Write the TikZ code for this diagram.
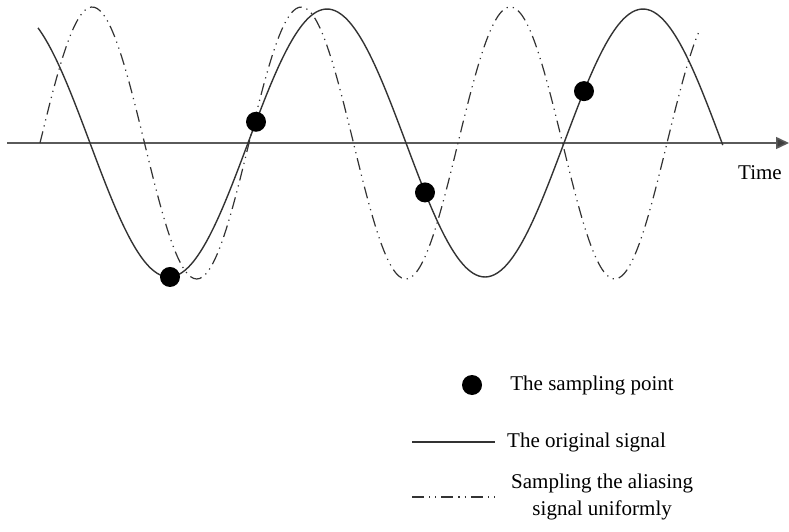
\documentclass[tikz,border=0pt]{standalone}
\usepackage{fontspec}
\setmainfont{Liberation Serif}
\usetikzlibrary{positioning, arrows.meta}
\definecolor{sigcol}{HTML}{333333}
\definecolor{axcol}{HTML}{5A5A5A}
\tikzset{
  axisline/.style={line width=1.5pt, draw=axcol, -{Triangle[length=13pt, width=12pt, fill=axcol!70!black]}},
  origsig/.style={line width=1.4pt, draw=sigcol},
  aliassig/.style={line width=1.2pt, draw=sigcol, dash pattern=on 12pt off 5pt on 1.2pt off 5pt on 1.2pt off 5pt},
  sample/.style={circle, fill=black, inner sep=0pt, minimum size=20pt},
  legtext/.style={inner sep=0pt, font=\fontsize{21}{27}\selectfont, align=center}
}

\begin{document}
\begin{tikzpicture}[x=1pt, y=1pt]
    \useasboundingbox (0,-389) rectangle (789,143);

    % Eje de tiempo
    \coordinate (axstart) at (7,0);
    \coordinate (axend) at (789,0);
    \draw [axisline] (axstart) -- (axend);
    \node (time) [legtext] at (760,-30) {Time};

    % Senales
    \draw [aliassig] plot[domain=40:700, samples=220, smooth] (\x, {136*sin((\x-40)/209*360)});
    \draw [origsig] plot[domain=38:722.8, samples=220, smooth] (\x, {134*sin((\x-248)/316*360)});

    % Puntos de muestreo
    \node (s1) [sample] at (170, {134*sin((170-248)/316*360)}) {};
    \node (s2) [sample] at (256, {134*sin((256-248)/316*360)}) {};
    \node (s3) [sample] at (425, {134*sin((425-248)/316*360)}) {};
    \node (s4) [sample] at (584, {134*sin((584-248)/316*360)}) {};

    % Leyenda
    \node (legdot) [sample] at (472,-242) {};
    \node (legdottxt) [legtext, right=28pt of legdot] {The sampling point};

    \coordinate (legsolA) at (412,-299);
    \coordinate (legsolB) at (495,-299);
    \draw [origsig] (legsolA) -- (legsolB);
    \node (legsoltxt) [legtext, right=12pt of legsolB] {The original signal};

    \coordinate (legalA) at (412,-354);
    \coordinate (legalB) at (495,-354);
    \draw [aliassig] (legalA) -- (legalB);
    \node (legaltxt) [legtext, right=16pt of legalB] {Sampling the aliasing\\signal uniformly};

\end{tikzpicture}
\end{document}
